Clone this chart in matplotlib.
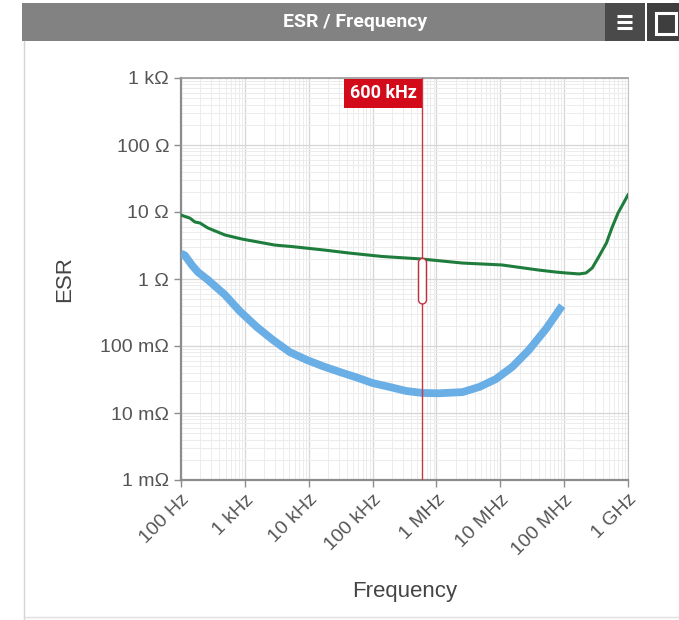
import numpy as np
import matplotlib
matplotlib.use("Agg")
import matplotlib.pyplot as plt
from matplotlib.patches import Rectangle
from matplotlib.path import Path
from matplotlib.ticker import FixedLocator, FixedFormatter, LogLocator, NullFormatter

# ESR curves (frequency in Hz, ESR in ohm)
green_hz = [100, 138, 165, 198, 264, 488, 899, 1600, 2940, 5420, 17800,
            43000, 140000, 580000, 2.56e6, 1.06e7, 4.0e7, 7.4e7, 1.07e8,
            1.72e8, 2.2e8, 2.75e8, 3.4e8, 4.6e8, 5.6e8, 7.0e8, 1.0e9]
green_ohm = [9.0, 8.1, 7.1, 6.85, 5.77, 4.54, 3.95, 3.57, 3.21, 3.05, 2.7,
             2.44, 2.17, 1.99, 1.73, 1.62, 1.36, 1.27, 1.23,
             1.19, 1.23, 1.46, 2.06, 3.45, 5.8, 9.7, 18.0]

blue_hz = [100, 115, 149, 184, 264, 488, 836, 1540, 2750, 5060, 9290,
           16600, 30500, 56000, 99900, 184000, 338000, 606000, 1.11e6,
           2.56e6, 4.7e6, 8.5e6, 1.55e7, 2.8e7, 5.2e7, 9.3e7]
blue_ohm = [2.4, 2.25, 1.6, 1.27, 0.97, 0.58, 0.33, 0.192, 0.123, 0.081,
            0.062, 0.050, 0.041, 0.034, 0.028, 0.0245, 0.0213, 0.0199,
            0.0197, 0.0205, 0.0245, 0.032, 0.049, 0.087, 0.18, 0.40]

cursor_hz = 600e3
cursor_label = "600 kHz"

x_ticks = [1e2, 1e3, 1e4, 1e5, 1e6, 1e7, 1e8, 1e9]
x_labels = ["100 Hz", "1 kHz", "10 kHz", "100 kHz", "1 MHz", "10 MHz",
            "100 MHz", "1 GHz"]
y_ticks = [1e-3, 1e-2, 1e-1, 1e0, 1e1, 1e2, 1e3]
y_labels = ["1 mΩ", "10 mΩ", "100 mΩ", "1 Ω", "10 Ω", "100 Ω", "1 kΩ"]

W, H = 679, 620
plt.rcParams["font.family"] = ["Liberation Sans", "DejaVu Sans"]

fig = plt.figure(figsize=(W / 100, H / 100), dpi=100)
fig.patch.set_facecolor("white")


def px_rect(x0, y0, x1, y1, **kw):
    # rectangle given in pixel coords from the top-left corner
    r = Rectangle((x0 / W, 1 - y1 / H), (x1 - x0) / W, (y1 - y0) / H,
                  transform=fig.transFigure, **kw)
    fig.add_artist(r)
    return r


def px_line(xs, ys, **kw):
    fig.add_artist(plt.Line2D([x / W for x in xs], [1 - y / H for y in ys],
                              transform=fig.transFigure, **kw))


# panel header
px_rect(22, 3, 605, 41, facecolor="#828282", edgecolor="none")
px_rect(605, 3, 645, 41, facecolor="#4a4a4a", edgecolor="none")
px_rect(647, 3, 679, 41, facecolor="#3e3e3e", edgecolor="none")
for yy in (16, 22, 28):
    px_line([617, 632], [yy, yy], color="white", lw=2.2, solid_capstyle="butt")
px_rect(656, 13, 676, 34, facecolor="none", edgecolor="white", lw=2.2)
fig.text(355 / W, 1 - 22 / H, "ESR / Frequency", color="white",
         fontsize=14, fontweight="bold", family=["Roboto", "DejaVu Sans"],
         ha="center", va="center")

# panel border
px_line([24, 24], [41, 620], color="#d4d4d4", lw=1)
px_line([24, 679], [617, 617], color="#e0e0e0", lw=1)

ax = fig.add_axes([181 / W, 1 - 480 / H, (628 - 181) / W, (480 - 78) / H])
ax.set_xscale("log")
ax.set_yscale("log")
ax.set_xlim(1e2, 1e9)
ax.set_ylim(1e-3, 1e3)

ax.xaxis.set_major_locator(FixedLocator(x_ticks))
ax.xaxis.set_major_formatter(FixedFormatter(x_labels))
ax.yaxis.set_major_locator(FixedLocator(y_ticks))
ax.yaxis.set_major_formatter(FixedFormatter(y_labels))
ax.xaxis.set_minor_locator(LogLocator(base=10, subs=np.arange(2, 10), numticks=20))
ax.yaxis.set_minor_locator(LogLocator(base=10, subs=np.arange(2, 10), numticks=20))
ax.xaxis.set_minor_formatter(NullFormatter())
ax.yaxis.set_minor_formatter(NullFormatter())

ax.grid(which="major", color="#d6d6d6", lw=0.9)
ax.grid(which="minor", color="#ececec", lw=0.7)
ax.set_axisbelow(True)

for side in ("left", "bottom"):
    ax.spines[side].set_color("#8c8c8c")
    ax.spines[side].set_linewidth(1.6)
ax.spines["top"].set_color("#9a9a9a")
ax.spines["top"].set_linewidth(1.2)
ax.spines["right"].set_color("#c4c4c4")
ax.spines["right"].set_linewidth(0.8)

ax.tick_params(which="major", length=5, width=1, color="#8c8c8c",
               labelcolor="#555555", labelsize=14)
ax.tick_params(which="minor", length=0)
ax.tick_params(axis="x", pad=3)
for lab in ax.get_xticklabels():
    lab.set_rotation(45)
    lab.set_ha("right")
    lab.set_rotation_mode("anchor")

ax.set_xlabel("Frequency", fontsize=16, color="#444444")
ax.set_ylabel("ESR", fontsize=16, color="#444444")
ax.xaxis.set_label_coords(0.501, -0.25)
ax.yaxis.set_label_coords(-0.237, 0.5)

ax.plot(blue_hz, blue_ohm, color="#6aaee6", lw=5.6, solid_capstyle="butt",
        solid_joinstyle="round", zorder=3)
ax.plot(green_hz, green_ohm, color="#1e7d3c", lw=2.2, solid_joinstyle="round",
        zorder=4)

# cursor line with its label
ax.axvline(cursor_hz, color="#cc3644", lw=1, zorder=5)
ax.annotate(cursor_label, xy=(cursor_hz, 1), xycoords=("data", "axes fraction"),
            xytext=(-4, -4.5), textcoords="offset points", ha="right", va="top",
            color="white", fontsize=13, fontweight="bold",
            family=["Roboto", "DejaVu Sans"],
            bbox=dict(boxstyle="square,pad=0.3", facecolor="#d20a1a",
                      edgecolor="none"), zorder=6, annotation_clip=False)

# capsule shaped handle hanging from the green curve at the cursor
theta = np.linspace(0, np.pi, 16)
top = np.column_stack([4 * np.cos(theta), -3 + 4 * np.sin(theta)])
bot = np.column_stack([4 * np.cos(theta + np.pi), -41 + 4 * np.sin(theta + np.pi)])
verts = np.vstack([top, bot, top[:1]])
handle = Path(verts, closed=True)
cursor_ohm = 10 ** np.interp(np.log10(cursor_hz), np.log10(green_hz),
                             np.log10(green_ohm))
ax.plot([cursor_hz], [cursor_ohm], marker=handle, markersize=64,
        markerfacecolor="white", markeredgecolor="#c0303c",
        markeredgewidth=1.0, zorder=7)

fig.savefig("out.png", dpi=100)
